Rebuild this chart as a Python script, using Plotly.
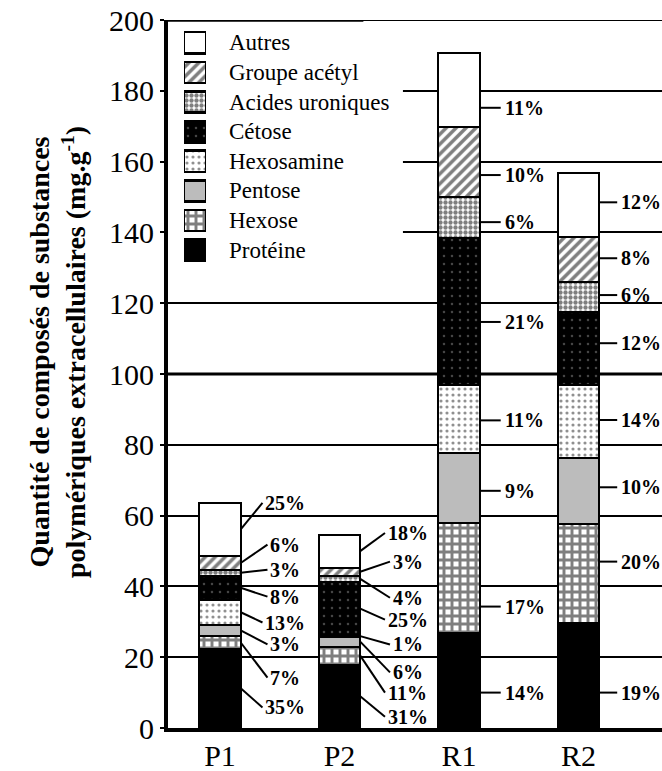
import plotly.graph_objects as go

# ---------------- data ----------------
CATEGORIES = ["P1", "P2", "R1", "R2"]
COMPONENTS = ["Protéine", "Hexose", "Pentose", "Hexosamine", "Cétose",
              "Acides uroniques", "Groupe acétyl", "Autres"]

PROTEINE = [22.4, 17.9, 26.9, 29.8]
HEXOSE = [3.5, 5.1, 31.1, 27.9]
PENTOSE = [3.3, 2.8, 19.7, 18.6]
HEXOSAMINE = [7.0, 0.3, 19.2, 20.6]
CETOSE = [6.8, 15.2, 41.5, 20.6]
ACIDES_URONIQUES = [1.7, 1.7, 11.6, 8.5]
GROUPE_ACETYL = [3.8, 2.3, 19.7, 12.6]
AUTRES = [15.2, 9.3, 21.1, 18.1]

PCT_P1 = ["35%", "7%", "3%", "13%", "8%", "3%", "6%", "25%"]
PCT_P2 = ["31%", "11%", "6%", "1%", "25%", "4%", "3%", "18%"]
PCT_R1 = ["14%", "17%", "9%", "11%", "21%", "6%", "10%", "11%"]
PCT_R2 = ["19%", "20%", "10%", "14%", "12%", "6%", "8%", "12%"]

Y_TICKS = [0, 20, 40, 60, 80, 100, 120, 140, 160, 180, 200]

SERIES = [PROTEINE, HEXOSE, PENTOSE, HEXOSAMINE, CETOSE,
          ACIDES_URONIQUES, GROUPE_ACETYL, AUTRES]
PCTS = [PCT_P1, PCT_P2, PCT_R1, PCT_R2]

# ---------------- layout / positions (not data) ----------------
W, H = 662, 771
M_L, M_R, M_T, M_B = 168, 0, 20, 43
X_RANGE = [-0.435, 3.699]
BAR_W = 0.347
PLOT_W = W - M_L - M_R
PLOT_H = H - M_T - M_B
PPU = PLOT_W / (X_RANGE[1] - X_RANGE[0])   # px per category unit

# label vertical positions (in y units) for each bar, bottom -> top
LABEL_Y = [
    [5.8, 14.2, 23.6, 29.8, 37.1, 44.7, 51.8, 63.6],
    [3.2, 10.0, 15.7, 23.6, 30.6, 36.8, 47.0, 55.1],
    [10.0, 34.3, 67.0, 86.9, 114.7, 142.9, 156.2, 175.2],
    [10.0, 47.0, 68.0, 87.0, 108.7, 122.3, 132.7, 148.5],
]
SLANTED_OFFSET_PX = [65.5, 68.5]   # label centre offset for P1, P2
DASH_PX = [21, 18]                 # dash length for R1, R2

PCT_FONT = dict(family="Liberation Serif", size=20, color="black")

STYLES = {
    "Protéine": dict(color="black"),
    "Hexose": dict(color="white", pattern=dict(shape="+", fgcolor="black", bgcolor="white", size=8, solidity=0.6)),
    "Pentose": dict(color="#bcbcbc"),
    "Hexosamine": dict(color="white", pattern=dict(shape=".", fgcolor="#222222", bgcolor="white", size=6, solidity=0.22)),
    "Cétose": dict(color="black", pattern=dict(shape=".", fgcolor="#8a8a8a", bgcolor="black", size=8, solidity=0.08)),
    "Acides uroniques": dict(color="white", pattern=dict(shape=".", fgcolor="black", bgcolor="white", size=5, solidity=0.6)),
    "Groupe acétyl": dict(color="white", pattern=dict(shape="/", fgcolor="black", bgcolor="white", size=7, solidity=0.5)),
    "Autres": dict(color="white"),
}

fig = go.Figure()

for name, vals in zip(COMPONENTS, SERIES):
    st = STYLES[name]
    marker = dict(color=st["color"], line=dict(color="black", width=2))
    if "pattern" in st:
        marker["pattern"] = st["pattern"]
    fig.add_trace(go.Bar(x=CATEGORIES, y=vals, name=name, width=BAR_W,
                         marker=marker, showlegend=False))

shapes = []
annotations = []

# white block behind the legend (hides gridlines there)
shapes.append(dict(type="rect", xref="x", yref="y", x0=X_RANGE[0], x1=1.531,
                   y0=128, y1=199.4, fillcolor="white", line=dict(width=0),
                   layer="between"))
# top frame line at 200
shapes.append(dict(type="line", xref="paper", yref="y", x0=0, x1=1, y0=200, y1=200,
                   line=dict(color="black", width=2), layer="between"))
shapes.append(dict(type="line", xref="x", yref="y", x0=X_RANGE[0], x1=1.2, y0=200, y1=200,
                   line=dict(color="black", width=3.5), layer="between"))
# heavier gridline at 100
shapes.append(dict(type="line", xref="paper", yref="y", x0=0, x1=1, y0=100, y1=100,
                   line=dict(color="black", width=3), layer="between"))

# percentage labels with leader lines
for ci, cat in enumerate(CATEGORIES):
    cum = 0.0
    edge = ci + BAR_W / 2
    for k, series in enumerate(SERIES):
        v = series[ci]
        mid = cum + v / 2
        cum += v
        txt = PCTS[ci][k]
        ly = LABEL_Y[ci][k]
        if ci < 2:
            cx = ci + SLANTED_OFFSET_PX[ci] / PPU
            tw = ((len(txt) - 1) * 0.5 + 1.0) * PCT_FONT["size"]
            x1 = cx - (tw / 2 + 3) / PPU
            shapes.append(dict(type="line", xref="x", yref="y", x0=edge, y0=mid,
                               x1=x1, y1=ly, line=dict(color="black", width=2),
                               layer="above"))
            annotations.append(dict(x=cx, y=ly, xref="x", yref="y", text="<b>%s</b>" % txt,
                                    showarrow=False, xanchor="center", yanchor="middle",
                                    font=PCT_FONT))
        else:
            x1 = edge + DASH_PX[ci - 2] / PPU
            shapes.append(dict(type="line", xref="x", yref="y", x0=edge, y0=ly,
                               x1=x1, y1=ly, line=dict(color="black", width=2),
                               layer="above"))
            annotations.append(dict(x=x1 + 2 / PPU, y=ly, xref="x", yref="y",
                                    text="<b>%s</b>" % txt, showarrow=False,
                                    xanchor="left", yanchor="middle", font=PCT_FONT))

# ---------------- custom legend (patterned swatches) ----------------
n = len(COMPONENTS)
for k, name in enumerate(COMPONENTS):
    i = n - 1 - k  # top row = Autres
    st = STYLES[name]
    marker = dict(color=st["color"], line=dict(color="black", width=2.5))
    if "pattern" in st:
        marker["pattern"] = st["pattern"]
    fig.add_trace(go.Bar(x=[0], y=[0.72], base=[i + 0.14], width=1,
                         xaxis="x2", yaxis="y2", marker=marker,
                         showlegend=False, hoverinfo="skip"))
    annotations.append(dict(x=(227 - M_L) / PLOT_W, y=i + 0.5, xref="paper", yref="y2",
                            text=name, showarrow=False, xanchor="left", yanchor="middle",
                            font=dict(family="Liberation Serif", size=23, color="black")))

# y-axis title
annotations.append(dict(
    x=(57 - M_L) / PLOT_W, y=(H - M_B - 352) / PLOT_H, xref="paper", yref="paper",
    text="<b>Quantité de composés de substances<br>polymériques extracellulaires (mg.g<sup>-1</sup>)</b>",
    showarrow=False, textangle=-90, xanchor="center", yanchor="middle",
    font=dict(family="Liberation Serif", size=28, color="black")))

fig.update_layout(
    width=W, height=H,
    margin=dict(l=M_L, r=M_R, t=M_T, b=M_B, autoexpand=False),
    paper_bgcolor="white", plot_bgcolor="white",
    barmode="stack",
    showlegend=False,
    xaxis=dict(type="category", range=X_RANGE, showline=True, linewidth=4,
               linecolor="black", showgrid=False, ticks="", automargin=False,
               ticklabelstandoff=-2,
               tickfont=dict(family="Liberation Serif", size=30, color="black")),
    yaxis=dict(range=[0, 200], tickvals=Y_TICKS, showline=True, linewidth=4,
               linecolor="black", ticks="outside", ticklen=4, tickwidth=2,
               tickcolor="black", showgrid=True, gridcolor="black", gridwidth=2,
               zeroline=False, automargin=False,
               tickfont=dict(family="Liberation Serif", size=30, color="black")),
    xaxis2=dict(domain=[(184 - M_L) / PLOT_W, (206 - M_L) / PLOT_W], range=[-0.5, 0.5],
                visible=False, anchor="y2", fixedrange=True, automargin=False),
    yaxis2=dict(domain=[(H - M_B - 265) / PLOT_H, (H - M_B - 28) / PLOT_H],
                range=[8, 0], visible=False, anchor="x2", fixedrange=True, automargin=False),
    shapes=shapes,
    annotations=annotations,
)

fig.write_html("out.html", config={"displayModeBar": False},
               post_script="document.body.style.margin='0';document.body.style.padding='0';document.body.style.overflow='hidden';")
